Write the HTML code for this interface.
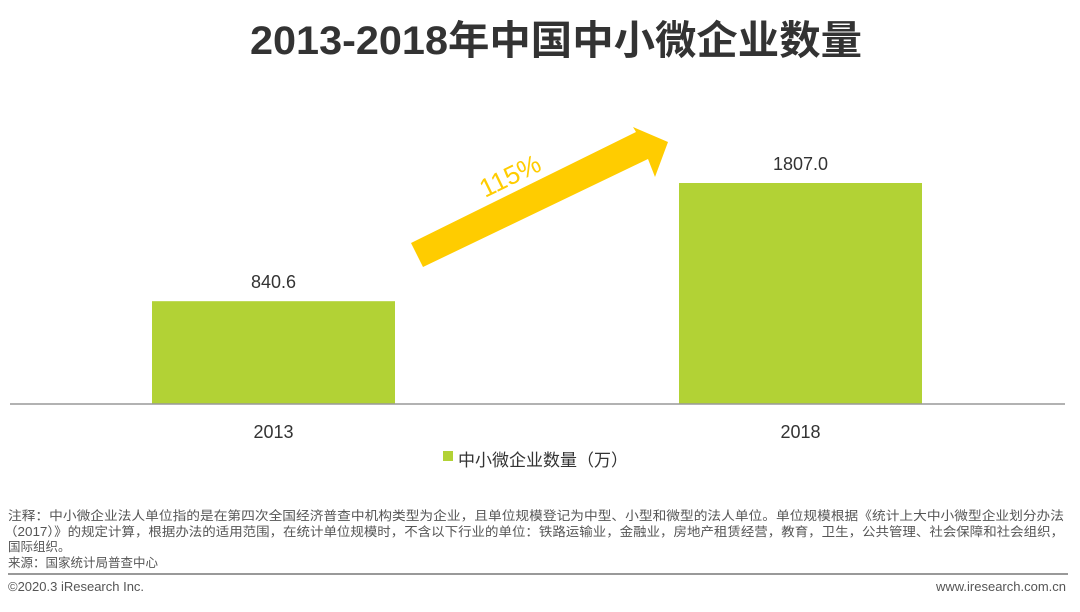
<!DOCTYPE html>
<html><head><meta charset="utf-8"><style>
body{margin:0;width:1080px;height:607px;background:#fff;overflow:hidden;font-family:"Liberation Sans","Noto Sans CJK SC",sans-serif;}
</style></head><body>
<svg width="1080" height="607" xmlns="http://www.w3.org/2000/svg">
<text x="556" y="54" text-anchor="middle" font-size="40" font-weight="bold" fill="#333" textLength="612" lengthAdjust="spacingAndGlyphs" font-family="Liberation Sans, Noto Sans CJK SC, sans-serif">2013-2018年中国中小微企业数量</text>
<g id="bars"></g>
<line x1="10" y1="404" x2="1065" y2="404" stroke="#999" stroke-width="1.5"/>
<g>
<polygon points="411,243 636,132 633,127 668,142 655,177 648,159 423,267" fill="#FFCC00"/>
<text x="0" y="0" transform="translate(485,198) rotate(-26)" font-size="26" fill="#FFCC00">115%</text>
</g>
<g>
<rect x="443" y="451" width="10" height="10" fill="#B2D235"/>
<text x="458" y="466" font-size="17" fill="#333">中小微企业数量（万）</text>
</g>
<g font-size="12.5" fill="#555">
<text x="8" y="520" textLength="1056" lengthAdjust="spacingAndGlyphs">注释：中小微企业法人单位指的是在第四次全国经济普查中机构类型为企业，且单位规模登记为中型、小型和微型的法人单位。单位规模根据《统计上大中小微型企业划分办法</text>
<text x="4" y="536" textLength="1060" lengthAdjust="spacingAndGlyphs">（2017）》的规定计算，根据办法的适用范围，在统计单位规模时，不含以下行业的单位：铁路运输业，金融业，房地产租赁经营，教育，卫生，公共管理、社会保障和社会组织，</text>
<text x="8" y="551">国际组织。</text>
<text x="8" y="567">来源：国家统计局普查中心</text>
</g>
<line x1="8" y1="574" x2="1068" y2="574" stroke="#999" stroke-width="2"/>
<text x="8" y="591" font-size="13" fill="#555">©2020.3 iResearch Inc.</text>
<text x="1066" y="591" font-size="13" fill="#555" text-anchor="end">www.iresearch.com.cn</text>
</svg>
<script>
const categories=["2013","2018"];
const values=[840.6,1807.0];
const valueLabels=["840.6","1807.0"];
const g=document.getElementById('bars');
const NS="http://www.w3.org/2000/svg";
const baseY=404,scale=221/1807;
function xPos(i){return 152+i*527;}
function yPos(v){return baseY-v*scale;}
categories.forEach((c,i)=>{
  const x=xPos(i),w=243,y=yPos(values[i]);
  const r=document.createElementNS(NS,'rect');
  r.setAttribute('x',x);r.setAttribute('y',y);r.setAttribute('width',w);r.setAttribute('height',baseY-y);r.setAttribute('fill','#B2D235');
  
  
  g.appendChild(r);
  const t=document.createElementNS(NS,'text');
  t.setAttribute('x',x+w/2);t.setAttribute('y',y-13);t.setAttribute('text-anchor','middle');t.setAttribute('font-size','18');t.setAttribute('fill','#333');
  t.textContent=valueLabels[i];
  
  
  g.appendChild(t);
  const l=document.createElementNS(NS,'text');
  l.setAttribute('x',x+w/2);l.setAttribute('y',438);l.setAttribute('text-anchor','middle');l.setAttribute('font-size','18');l.setAttribute('fill','#333');
  l.textContent=c;
  
  
  g.appendChild(l);
});
</script>
</body></html>
